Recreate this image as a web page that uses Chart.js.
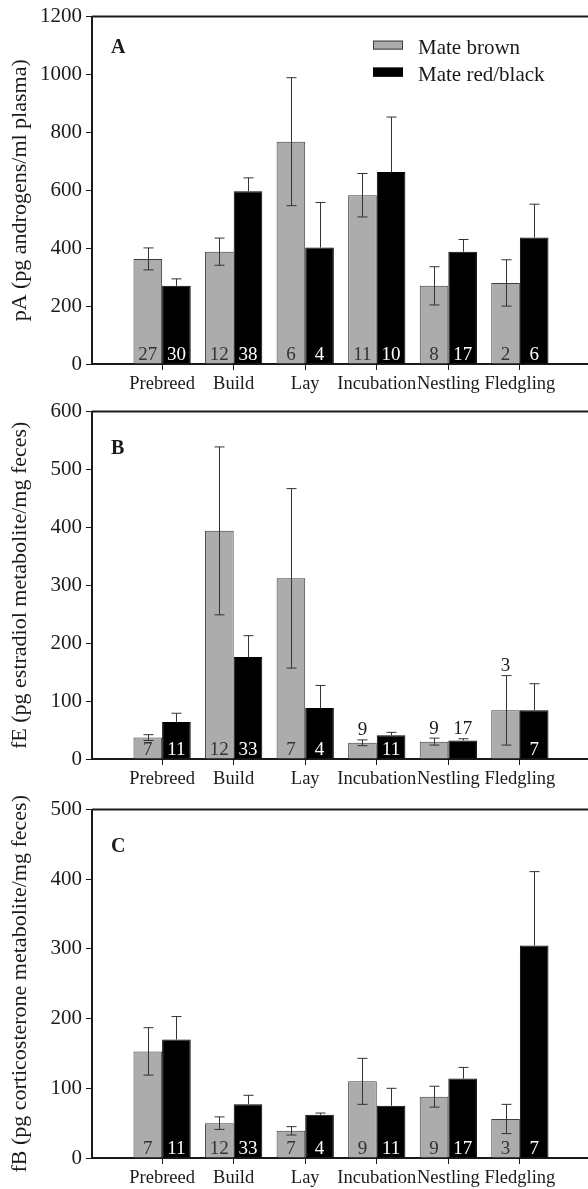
<!DOCTYPE html>
<html><head><meta charset="utf-8">
<script src="https://cdn.jsdelivr.net/npm/chart.js@4/dist/chart.umd.min.js"></script>
<style>
html,body{margin:0;padding:0;background:#fff;overflow:hidden;width:588px;height:1189px;position:relative}
.panel{position:absolute;left:0;width:600px;height:400px}
canvas{display:block}
</style></head><body>
<div class="panel" style="top:0px"><canvas id="cA" width="600" height="400"></canvas></div>
<div class="panel" style="top:395px"><canvas id="cB" width="600" height="400"></canvas></div>
<div class="panel" style="top:793px"><canvas id="cC" width="600" height="400"></canvas></div>
<script>
// ---------- data ----------
const categories = ['Prebreed', 'Build', 'Lay', 'Incubation', 'Nestling', 'Fledgling'];
const seriesNames = ['Mate brown', 'Mate red/black'];

// Panel A: plasma androgens
const brownA   = [363, 388, 768, 583, 270, 280];
const brownSeA = [38, 47, 221, 75, 66, 80];
const redA     = [270, 597, 402, 663, 388, 437];
const redSeA   = [24, 46, 156, 190, 42, 115];
const nBrownA  = [27, 12, 6, 11, 8, 2];
const nRedA    = [30, 38, 4, 10, 17, 6];
const yTicksA  = [0, 200, 400, 600, 800, 1000, 1200];

// Panel B: fecal estradiol metabolite
const brownB   = [37, 394, 312, 28, 30, 84];
const brownSeB = [5, 145, 155, 5, 6, 60];
const redB     = [64, 176, 88, 41, 32, 84];
const redSeB   = [15, 37, 39, 5, 3, 46];
const nBrownB  = [7, 12, 7, 9, 9, 3];
const nRedB    = [11, 33, 4, 11, 17, 7];
const yTicksB  = [0, 100, 200, 300, 400, 500, 600];

// Panel C: fecal corticosterone metabolite
const brownC   = [153, 50, 39, 110, 88, 56];
const brownSeC = [34, 9, 6, 33, 15, 21];
const redC     = [170, 77, 62, 75, 114, 305];
const redSeC   = [33, 13, 2.5, 25, 16, 106];
const nBrownC  = [7, 12, 7, 9, 9, 3];
const nRedC    = [11, 33, 4, 11, 17, 7];
const yTicksC  = [0, 100, 200, 300, 400, 500];

// ---------- styling ----------
const FONT = '"Liberation Serif", "Times New Roman", serif';
const INK = '#1a1a1a';
const GRAY = '#acacac';

const framePlugin = {
  id: 'frame',
  afterDraw(chart) {
    const {ctx, chartArea: a} = chart;
    ctx.save();
    ctx.strokeStyle = INK; ctx.lineWidth = 2;
    ctx.beginPath();
    ctx.moveTo(a.left, a.top); ctx.lineTo(a.right, a.top); ctx.lineTo(a.right, a.bottom);
    ctx.stroke();
    ctx.restore();
  }
};

const errorBarPlugin = {
  id: 'errbars',
  afterDatasetsDraw(chart) {
    const {ctx} = chart;
    const ys = chart.scales.y;
    ctx.save();
    ctx.strokeStyle = '#333'; ctx.lineWidth = 1;
    chart.data.datasets.forEach((ds, di) => {
      const meta = chart.getDatasetMeta(di);
      meta.data.forEach((el, j) => {
        const v = ds.data[j].y, se = ds.se[j];
        const x = Math.round(el.x) + 0.5;
        const yt = ys.getPixelForValue(v + se);
        const yb = ys.getPixelForValue(v - se);
        const ym = ys.getPixelForValue(v);
        const lowVisible = di === 0;
        ctx.beginPath();
        ctx.moveTo(x, yt); ctx.lineTo(x, lowVisible ? yb : ym);
        ctx.moveTo(x - 5, yt); ctx.lineTo(x + 5, yt);
        if (lowVisible) { ctx.moveTo(x - 5, yb); ctx.lineTo(x + 5, yb); }
        ctx.stroke();
      });
    });
    ctx.restore();
  }
};

const nLabelPlugin = {
  id: 'nlabels',
  afterDatasetsDraw(chart) {
    const {ctx} = chart;
    const ys = chart.scales.y;
    ctx.save();
    ctx.font = '19px ' + FONT;
    ctx.textAlign = 'center';
    ctx.textBaseline = 'alphabetic';
    chart.data.datasets.forEach((ds, di) => {
      const meta = chart.getDatasetMeta(di);
      meta.data.forEach((el, j) => {
        const v = ds.data[j].y, se = ds.se[j];
        const base = el.base;
        const barH = base - el.y;
        const lowH = base - ys.getPixelForValue(v - se);
        const above = barH < 20 || (di === 0 && lowH < 16);
        if (above) {
          const top = Math.min(el.y, ys.getPixelForValue(v + se));
          ctx.fillStyle = INK;
          ctx.fillText(String(ds.n[j]), el.x, top - 4.5);
        } else {
          ctx.fillStyle = di === 0 ? '#333' : '#fff';
          ctx.fillText(String(ds.n[j]), el.x, base - 4);
        }
      });
    });
    ctx.restore();
  }
};

function letterPlugin(letter, dy) {
  return {
    id: 'letter' + letter,
    afterDraw(chart) {
      const {ctx, chartArea: a} = chart;
      ctx.save();
      ctx.font = 'bold 20px ' + FONT;
      ctx.fillStyle = INK;
      ctx.textAlign = 'left'; ctx.textBaseline = 'alphabetic';
      ctx.fillText(letter, a.left + 19, a.top + dy);
      ctx.restore();
    }
  };
}

const legendPlugin = {
  id: 'customLegend',
  afterDraw(chart) {
    const {ctx, chartArea: a} = chart;
    ctx.save();
    ctx.font = '21px ' + FONT;
    ctx.textAlign = 'left'; ctx.textBaseline = 'alphabetic';
    chart.data.datasets.forEach((ds, i) => {
      const bx = 373, by = a.top + 24 + i * 27;
      ctx.fillStyle = ds.backgroundColor;
      ctx.fillRect(bx, by, 30, 9);
      ctx.strokeStyle = ds.borderColor; ctx.lineWidth = 1;
      ctx.strokeRect(bx + 0.5, by + 0.5, 29, 8);
      ctx.fillStyle = INK;
      ctx.fillText(ds.label, 418, by + 13.5);
    });
    ctx.restore();
  }
};

function makePanel(id, cfg) {
  const toPts = arr => arr.map((v, i) => ({x: i + 1, y: v}));
  const plugins = [framePlugin, errorBarPlugin, nLabelPlugin, letterPlugin(cfg.letter, cfg.letterDy)];
  if (cfg.legend) plugins.push(legendPlugin);
  return new Chart(document.getElementById(id), {
    type: 'bar',
    data: {
      datasets: [
        {label: seriesNames[0], data: toPts(cfg.brown), se: cfg.brownSe, n: cfg.nBrown,
         backgroundColor: GRAY, borderColor: '#3c3c3c', borderWidth: 1,
         categoryPercentage: 0.8, barPercentage: 1.0},
        {label: seriesNames[1], data: toPts(cfg.red), se: cfg.redSe, n: cfg.nRed,
         backgroundColor: '#000000', borderColor: '#000000', borderWidth: 1,
         categoryPercentage: 0.8, barPercentage: 1.0}
      ]
    },
    options: {
      responsive: false, animation: false, devicePixelRatio: 1,
      layout: {padding: {top: 16, right: 10, left: 0, bottom: 0}},
      plugins: {legend: {display: false}, tooltip: {enabled: false}},
      scales: {
        x: {
          type: 'linear', min: 0.02, max: 6.98, offset: false,
          afterBuildTicks: s => { s.ticks = categories.map((c, i) => ({value: i + 1})); },
          afterFit: s => { s.height = cfg.xHeight; },
          ticks: {
            callback: v => categories[v - 1] || '',
            autoSkip: false, maxRotation: 0, minRotation: 0,
            font: {family: FONT, size: 18.5}, color: INK, padding: 3
          },
          grid: {
            display: true, drawOnChartArea: false, drawTicks: true, tickLength: 6, offset: false,
            tickColor: INK
          },
          border: {display: true, color: INK, width: 2}
        },
        y: {
          min: 0, max: cfg.yTicks[cfg.yTicks.length - 1],
          afterBuildTicks: s => { s.ticks = cfg.yTicks.map(v => ({value: v})); },
          afterFit: s => { s.width = 92; },
          ticks: {font: {family: FONT, size: 21}, color: INK, padding: 4, callback: v => String(v)},
          grid: {drawOnChartArea: false, drawTicks: true, tickLength: 6, tickColor: INK},
          border: {display: true, color: INK, width: 2},
          title: {display: true, text: cfg.title, font: {family: FONT, size: 22}, color: INK,
                  padding: {top: 7, bottom: 0}}
        }
      }
    },
    plugins: plugins
  });
}

makePanel('cA', {brown: brownA, brownSe: brownSeA, red: redA, redSe: redSeA, nBrown: nBrownA, nRed: nRedA,
  yTicks: yTicksA, title: 'pA (pg androgens/ml plasma)', letter: 'A', letterDy: 36.5, legend: true, xHeight: 36});
makePanel('cB', {brown: brownB, brownSe: brownSeB, red: redB, redSe: redSeB, nBrown: nBrownB, nRed: nRedB,
  yTicks: yTicksB, title: 'fE (pg estradiol metabolite/mg feces)', letter: 'B', letterDy: 42, legend: false, xHeight: 36});
makePanel('cC', {brown: brownC, brownSe: brownSeC, red: redC, redSe: redSeC, nBrown: nBrownC, nRed: nRedC,
  yTicks: yTicksC, title: 'fB (pg corticosterone metabolite/mg feces)', letter: 'C', letterDy: 42.5, legend: false, xHeight: 35});
</script>
</body></html>
